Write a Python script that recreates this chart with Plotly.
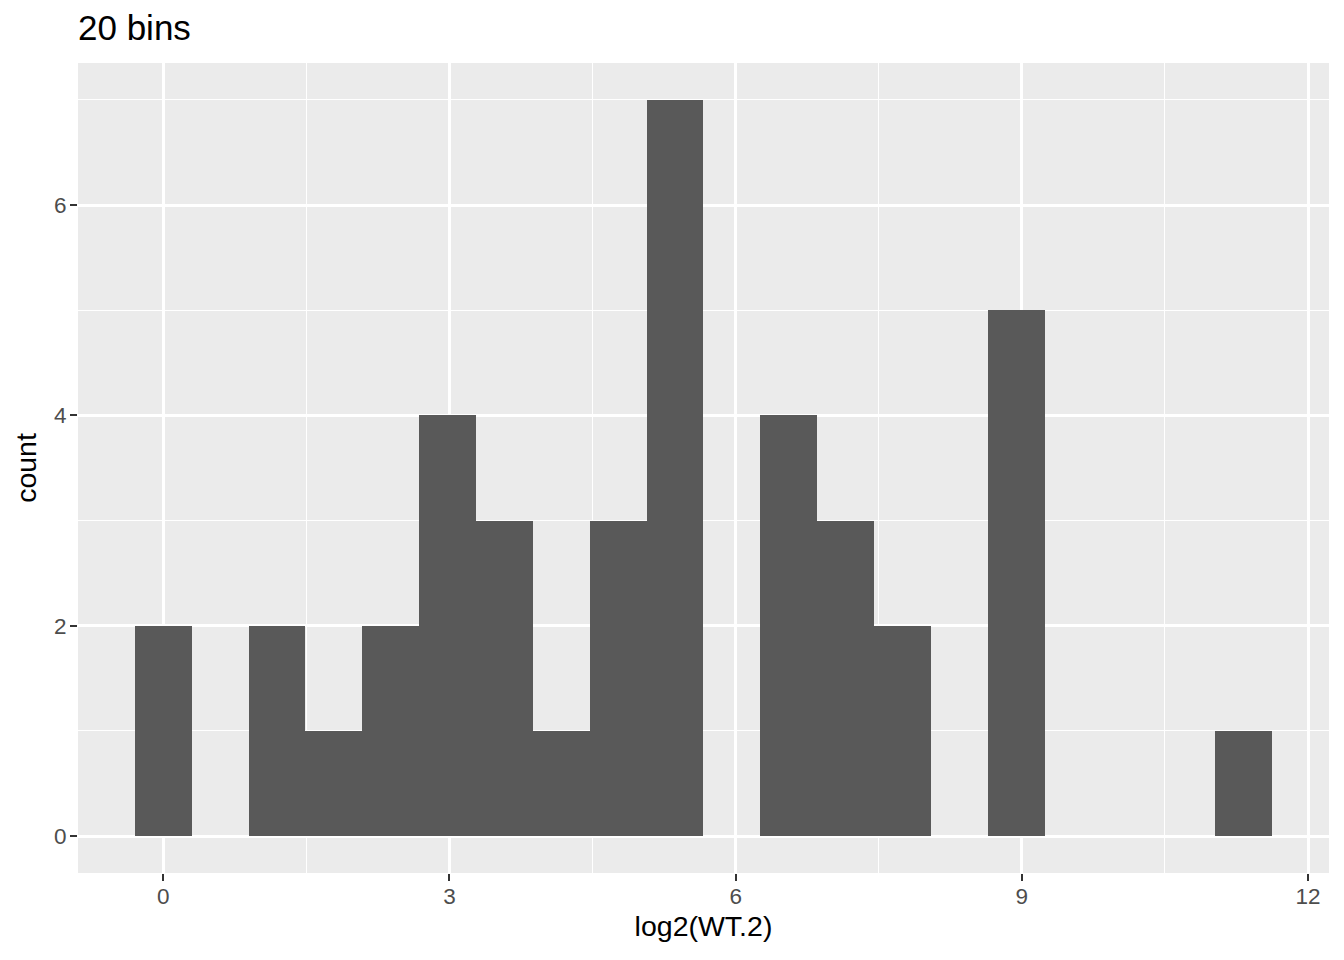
import plotly.graph_objects as go

# Histogram data (20 bins)
bin_centers = [0.00, 0.596, 1.192, 1.788, 2.384, 2.980, 3.576, 4.172, 4.768, 5.364,
               5.960, 6.556, 7.152, 7.748, 8.344, 8.940, 9.536, 10.132, 10.728, 11.324]
counts = [2, 0, 2, 1, 2, 4, 3, 1, 3, 7,
          0, 4, 3, 2, 0, 5, 0, 0, 0, 1]
bin_width = 0.596

x_ticks = [0, 3, 6, 9, 12]
y_ticks = [0, 2, 4, 6]

FONT = "Liberation Sans, Arial, sans-serif"

fig = go.Figure()
fig.add_trace(go.Bar(
    x=bin_centers, y=counts, width=[bin_width] * len(bin_centers),
    marker=dict(color="#595959", line=dict(width=0)),
    hoverinfo="x+y",
))

fig.update_layout(
    width=1344, height=960,
    margin=dict(l=78, r=15, t=63, b=87),
    paper_bgcolor="white",
    plot_bgcolor="#EBEBEB",
    bargap=0,
    showlegend=False,
    font=dict(family=FONT, color="black"),
    title=dict(text="20 bins", x=78 / 1344, xanchor="left", xref="container",
               y=1 - 28 / 960, yanchor="middle", yref="container",
               font=dict(size=35, color="black", family=FONT)),
)

fig.update_xaxes(
    range=[-0.894, 12.22],
    tickvals=x_ticks, ticktext=[str(v) for v in x_ticks],
    showgrid=True, gridcolor="white", gridwidth=2.8,
    zeroline=False, showline=False,
    ticks="outside", ticklen=7, tickwidth=2, tickcolor="#333333",
    ticklabelstandoff=-4,
    tickfont=dict(size=22.5, color="#4D4D4D", family=FONT),
    minor=dict(tickvals=[1.5, 4.5, 7.5, 10.5], showgrid=True, gridcolor="white",
               gridwidth=1.4, ticks=""),
    title=dict(text="log2(WT.2)", font=dict(size=28.5, color="black", family=FONT), standoff=8),
)
fig.update_yaxes(
    range=[-0.35, 7.35],
    tickvals=y_ticks, ticktext=[str(v) for v in y_ticks],
    showgrid=True, gridcolor="white", gridwidth=2.8,
    zeroline=False, showline=False,
    ticks="outside", ticklen=7, tickwidth=2, tickcolor="#333333",
    ticklabelstandoff=-1,
    tickfont=dict(size=22.5, color="#4D4D4D", family=FONT),
    minor=dict(tickvals=[1, 3, 5, 7], showgrid=True, gridcolor="white",
               gridwidth=1.4, ticks=""),
    title=dict(text="count", font=dict(size=28.5, color="black", family=FONT), standoff=9),
)

fig.write_html("out.html", config={"displayModeBar": False},
               post_script="document.body.style.margin='0';")
